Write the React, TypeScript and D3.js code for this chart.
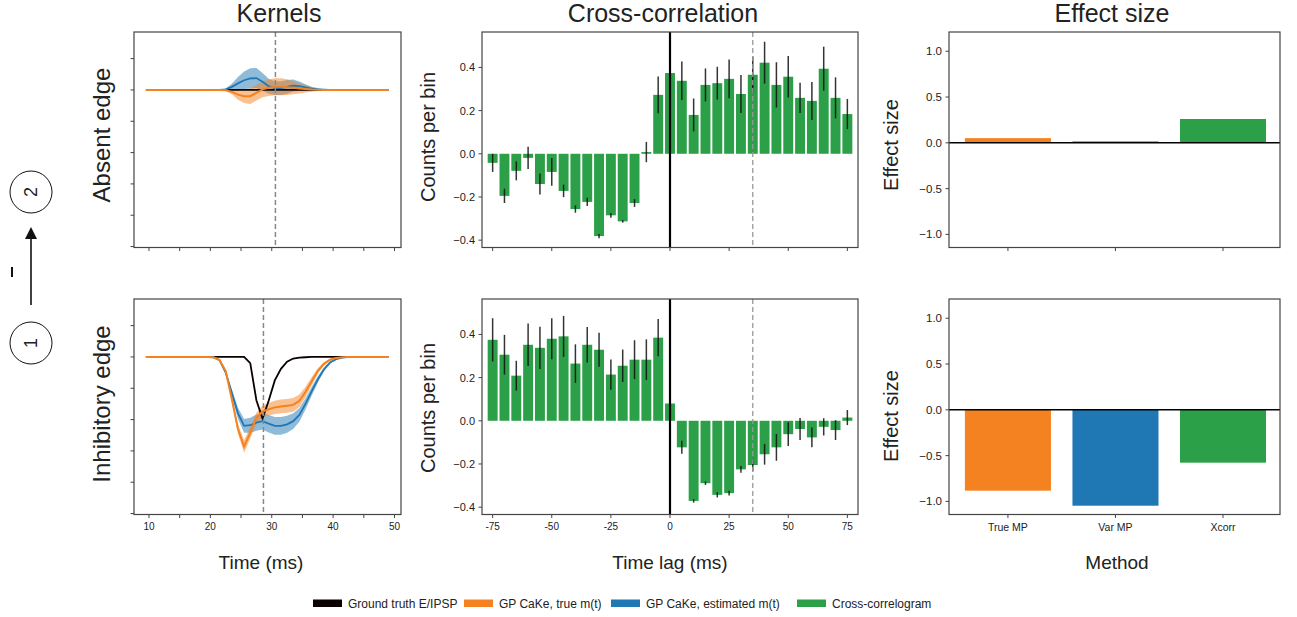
import React from 'react';
import * as d3 from 'd3';

// ---------------- DATA ----------------
const KERNEL_TIME = [9.5, 19.5, 20.5, 21.5, 22.5, 23.5, 24.5, 25.5, 26.5, 27.5, 28.5, 29.5, 30.5, 31.5, 32.5, 33.5, 34.5, 35.5, 36.5, 37.5, 38.5, 39.5, 40.5, 41.5, 42.5, 49.0];

// Absent edge kernels
const ABSENT_TRUTH = [0, 0, 0, 0, 0, 0, 0, 0, 0, 0, 0, 0, 0, 0, 0, 0, 0, 0, 0, 0, 0, 0, 0, 0, 0, 0];
const ABSENT_TRUE_M = [0, 0, 0, 0, -0.01, -0.06, -0.15, -0.2, -0.2, -0.09, 0.02, 0.07, 0.1, 0.1, 0.09, 0.07, 0.05, 0.03, 0.015, 0.005, 0, 0, 0, 0, 0, 0];
const ABSENT_TRUE_M_SD = [0, 0, 0, 0, 0.02, 0.08, 0.16, 0.22, 0.25, 0.25, 0.25, 0.26, 0.27, 0.27, 0.25, 0.21, 0.16, 0.11, 0.07, 0.04, 0.02, 0.01, 0, 0, 0, 0];
const ABSENT_EST_M = [0, 0, 0, 0, 0.02, 0.1, 0.21, 0.31, 0.37, 0.38, 0.26, 0.12, 0.06, 0.06, 0.1, 0.14, 0.12, 0.08, 0.04, 0.02, 0.01, 0, 0, 0, 0, 0];
const ABSENT_EST_M_SD = [0, 0, 0, 0, 0.03, 0.1, 0.2, 0.28, 0.32, 0.32, 0.28, 0.24, 0.22, 0.22, 0.22, 0.19, 0.15, 0.1, 0.06, 0.04, 0.02, 0.01, 0, 0, 0, 0];

// Inhibitory edge kernels
const INHIB_TRUTH = [0, 0, 0, 0, 0, 0, 0, 0, -0.2, -1.38, -1.97, -1.4, -0.75, -0.38, -0.15, -0.05, -0.02, -0.01, 0, 0, 0, 0, 0, 0, 0, 0];
const INHIB_TRUE_M = [0, 0, -0.01, -0.1, -0.45, -1.35, -2.3, -2.86, -2.42, -1.95, -1.74, -1.67, -1.61, -1.58, -1.56, -1.53, -1.4, -1.12, -0.78, -0.45, -0.22, -0.09, -0.03, -0.01, 0, 0];
const INHIB_TRUE_M_SD = [0, 0, 0, 0.01, 0.04, 0.1, 0.15, 0.2, 0.18, 0.17, 0.18, 0.2, 0.21, 0.22, 0.22, 0.22, 0.2, 0.17, 0.13, 0.09, 0.05, 0.03, 0.01, 0, 0, 0];
const INHIB_EST_M = [0, 0, -0.01, -0.1, -0.5, -1.15, -1.8, -2.2, -2.18, -2.1, -2.05, -2.13, -2.2, -2.2, -2.15, -2.05, -1.85, -1.5, -1.1, -0.72, -0.4, -0.18, -0.07, -0.02, 0, 0];
const INHIB_EST_M_SD = [0, 0, 0, 0.01, 0.05, 0.12, 0.18, 0.22, 0.24, 0.26, 0.27, 0.28, 0.28, 0.28, 0.27, 0.25, 0.22, 0.18, 0.14, 0.1, 0.06, 0.03, 0.01, 0, 0, 0];

const KERNEL_X_TICKS = [10, 15, 20, 25, 30, 35, 40, 45, 50];
const KERNEL_X_LABELS = [10, 20, 30, 40, 50];
const KERNEL_Y_TICKS = [1, 0, -1, -2, -3, -4, -5];
const ABSENT_DELAY = 30.6;
const INHIB_DELAY = 28.65;

// Cross-correlograms
const LAGS = [-75, -70, -65, -60, -55, -50, -45, -40, -35, -30, -25, -20, -15, -10, -5, 0, 5, 10, 15, 20, 25, 30, 35, 40, 45, 50, 55, 60, 65, 70, 75];
const XC_ABSENT = [-0.042, -0.195, -0.079, -0.019, -0.14, -0.084, -0.172, -0.256, -0.223, -0.381, -0.285, -0.313, -0.228, 0.008, 0.273, 0.374, 0.338, 0.18, 0.319, 0.327, 0.347, 0.277, 0.366, 0.422, 0.319, 0.357, 0.259, 0.245, 0.394, 0.259, 0.184];
const XC_ABSENT_ERR = [0.042, 0.033, 0.044, 0.052, 0.049, 0.064, 0.029, 0.017, 0.019, 0.01, 0.011, 0.006, 0.018, 0.047, 0.085, 0.07, 0.089, 0.076, 0.076, 0.076, 0.09, 0.088, 0.085, 0.097, 0.105, 0.096, 0.07, 0.088, 0.102, 0.095, 0.07];
const XC_INHIB = [0.375, 0.306, 0.209, 0.352, 0.338, 0.38, 0.391, 0.265, 0.352, 0.329, 0.214, 0.255, 0.283, 0.283, 0.385, 0.08, -0.123, -0.371, -0.289, -0.343, -0.335, -0.225, -0.205, -0.155, -0.123, -0.062, -0.038, -0.077, -0.028, -0.043, 0.015];
const XC_INHIB_ERR = [0.1, 0.092, 0.069, 0.098, 0.098, 0.095, 0.095, 0.089, 0.082, 0.079, 0.07, 0.075, 0.09, 0.094, 0.086, 0.08, 0.03, 0.008, 0.008, 0.012, 0.011, 0.016, 0.029, 0.048, 0.062, 0.055, 0.051, 0.046, 0.04, 0.046, 0.035];
const XC_X_TICKS = [-75, -50, -25, 0, 25, 50, 75];
const XC_Y_TICKS = [-0.4, -0.2, 0.0, 0.2, 0.4];
const XC_DELAY = 35;

// Effect sizes
const METHODS = ['True MP', 'Var MP', 'Xcorr'];
const EFFECT_ABSENT = [0.051, 0.015, 0.26];
const EFFECT_INHIB = [-0.883, -1.047, -0.577];
const EFFECT_Y_TICKS = [-1.0, -0.5, 0.0, 0.5, 1.0];

const LEGEND_LABELS = ['Ground truth E/IPSP', 'GP CaKe, true m(t)', 'GP CaKe, estimated m(t)', 'Cross-correlogram'];

// ---------------- STYLE ----------------
const C_BLACK = '#0a0000';
const C_ORANGE = '#f58220';
const C_BLUE = '#1f77b4';
const C_GREEN = '#2ca048';
const METHOD_COLORS = [C_ORANGE, C_BLUE, C_GREEN];
const LEGEND_COLORS = [C_BLACK, C_ORANGE, C_BLUE, C_GREEN];
const FONT = "'Liberation Sans', Arial, Helvetica, sans-serif";
const TXT = '#222';
const SPINE = '#444';

const ROWS = [
  { top: 32, bottom: 247.5 },
  { top: 299, bottom: 514.5 },
];

const fmt1 = (v: number) => (v < 0 ? '\u2212' : '') + Math.abs(v).toFixed(1);

function Frame({ x0, x1, y0, y1 }: { x0: number; x1: number; y0: number; y1: number }) {
  return <rect x={x0} y={y0} width={x1 - x0} height={y1 - y0} fill="none" stroke={SPINE} strokeWidth={1.2} />;
}

function KernelPanel({ row, truth, trueM, trueSd, estM, estSd, delay, labels }: any) {
  const { top, bottom } = ROWS[row];
  const x = d3.scaleLinear().domain([7.56, 51.06]).range([134, 401]);
  const y = d3.scaleLinear().domain([-5.03, 1.85]).range([bottom, top]);
  const idx = KERNEL_TIME.map((_, i) => i);
  const band = (m: number[], s: number[]) =>
    d3.area<number>().x(i => x(KERNEL_TIME[i])).y0(i => y(m[i] - s[i])).y1(i => y(m[i] + s[i]))(idx) || '';
  const line = (m: number[]) => d3.line<number>().x(i => x(KERNEL_TIME[i])).y(i => y(m[i]))(idx) || '';
  return (
    <g>
      <path d={band(estM, estSd)} fill={C_BLUE} fillOpacity={0.5} />
      <path d={band(trueM, trueSd)} fill={C_ORANGE} fillOpacity={0.5} />
      <path d={line(truth)} fill="none" stroke={C_BLACK} strokeWidth={1.8} />
      <path d={line(estM)} fill="none" stroke={C_BLUE} strokeWidth={1.8} />
      <path d={line(trueM)} fill="none" stroke={C_ORANGE} strokeWidth={2} />
      <line x1={x(delay)} x2={x(delay)} y1={top} y2={bottom} stroke="#888" strokeWidth={1.5} strokeDasharray="5,3" />
      <Frame x0={134} x1={401} y0={top} y1={bottom} />
      {KERNEL_Y_TICKS.map(t => (
        <line key={t} x1={130.5} x2={134} y1={y(t)} y2={y(t)} stroke={SPINE} />
      ))}
      {KERNEL_X_TICKS.map(t => (
        <line key={t} x1={x(t)} x2={x(t)} y1={bottom} y2={bottom + 3.5} stroke={SPINE} />
      ))}
      {labels &&
        KERNEL_X_LABELS.map(t => (
          <text key={t} x={x(t)} y={bottom + 15} fontSize={10} textAnchor="middle" fill={TXT} fontFamily={FONT}>
            {t}
          </text>
        ))}
    </g>
  );
}

function XcorrPanel({ row, values, errs, labels }: any) {
  const { top, bottom } = ROWS[row];
  const x = d3.scaleLinear().domain([-79.5, 79.5]).range([482, 858]);
  const y = d3.scaleLinear().domain([-0.434, 0.564]).range([bottom, top]);
  const bw = x(4.2) - x(0);
  return (
    <g>
      {LAGS.map((l, i) => {
        const v = values[i];
        return (
          <rect key={'b' + l} x={x(l) - bw / 2} width={bw} y={Math.min(y(v), y(0))} height={Math.abs(y(v) - y(0))} fill={C_GREEN} />
        );
      })}
      {LAGS.map((l, i) => (
        <line key={'e' + l} x1={x(l)} x2={x(l)} y1={y(values[i] - errs[i])} y2={y(values[i] + errs[i])} stroke="#111" strokeOpacity={0.85} strokeWidth={1.5} />
      ))}
      <line x1={x(0)} x2={x(0)} y1={top} y2={bottom} stroke="#000" strokeWidth={2.2} />
      <line x1={x(XC_DELAY)} x2={x(XC_DELAY)} y1={top} y2={bottom} stroke="#999" strokeWidth={1.3} strokeDasharray="5,3" />
      <Frame x0={482} x1={858} y0={top} y1={bottom} />
      {XC_Y_TICKS.map(t => (
        <g key={t}>
          <line x1={478.5} x2={482} y1={y(t)} y2={y(t)} stroke={SPINE} />
          <text x={475} y={y(t) + 4} fontSize={11} textAnchor="end" fill={TXT} fontFamily={FONT}>
            {fmt1(t)}
          </text>
        </g>
      ))}
      {XC_X_TICKS.map(t => (
        <g key={t}>
          <line x1={x(t)} x2={x(t)} y1={bottom} y2={bottom + 3.5} stroke={SPINE} />
          {labels && (
            <text x={x(t)} y={bottom + 15} fontSize={10} textAnchor="middle" fill={TXT} fontFamily={FONT}>
              {t}
            </text>
          )}
        </g>
      ))}
      <text transform={`translate(435,${row === 0 ? 137 : 408}) rotate(-90)`} fontSize={20} textAnchor="middle" fill={TXT} fontFamily={FONT}>
        Counts per bin
      </text>
    </g>
  );
}

function EffectPanel({ row, values, labels }: any) {
  const { top, bottom } = ROWS[row];
  const x = d3.scaleLinear().domain([-0.548, 2.53]).range([949, 1280]);
  const y = d3.scaleLinear().domain([-1.143, 1.21]).range([bottom, top]);
  const bw = x(0.8) - x(0);
  return (
    <g>
      {METHODS.map((m, i) => (
        <rect key={m} x={x(i) - bw / 2} width={bw} y={Math.min(y(values[i]), y(0))} height={Math.max(1, Math.abs(y(values[i]) - y(0)))} fill={METHOD_COLORS[i]} />
      ))}
      <line x1={949} x2={1280} y1={y(0)} y2={y(0)} stroke="#000" strokeWidth={1.5} />
      <Frame x0={949} x1={1280} y0={top} y1={bottom} />
      {EFFECT_Y_TICKS.map(t => (
        <g key={t}>
          <line x1={945.5} x2={949} y1={y(t)} y2={y(t)} stroke={SPINE} />
          <text x={942} y={y(t) + 4} fontSize={11.5} textAnchor="end" fill={TXT} fontFamily={FONT}>
            {fmt1(t)}
          </text>
        </g>
      ))}
      {METHODS.map((m, i) => (
        <g key={m}>
          <line x1={x(i)} x2={x(i)} y1={bottom} y2={bottom + 3.5} stroke={SPINE} />
          {labels && (
            <text x={x(i)} y={bottom + 16} fontSize={10.5} textAnchor="middle" fill={TXT} fontFamily={FONT}>
              {m}
            </text>
          )}
        </g>
      ))}
      <text transform={`translate(898,${row === 0 ? 145 : 416}) rotate(-90)`} fontSize={20} textAnchor="middle" fill={TXT} fontFamily={FONT}>
        Effect size
      </text>
    </g>
  );
}

function Diagram() {
  return (
    <g>
      <circle cx={31} cy={192} r={21} fill="none" stroke="#111" strokeWidth={1} />
      <circle cx={31} cy={343} r={21} fill="none" stroke="#111" strokeWidth={1} />
      <text transform="translate(37,192) rotate(-90)" fontSize={18} textAnchor="middle" fill={TXT} fontFamily={FONT}>2</text>
      <text transform="translate(37,343) rotate(-90)" fontSize={18} textAnchor="middle" fill={TXT} fontFamily={FONT}>1</text>
      <line x1={31} x2={31} y1={305} y2={236} stroke="#111" strokeWidth={1.6} />
      <path d="M31,227 L25,239 L37,239 Z" fill="#111" />
      <line x1={12} x2={12} y1={267} y2={277} stroke="#111" strokeWidth={2} />
    </g>
  );
}

export default function App() {
  const legendRectX = [313, 464, 611, 797];
  const legendTextX = [348, 499, 646, 832];
  return (
    <svg width={1297} height={617} style={{ position: 'absolute', left: 0, top: 0, background: '#fff' }} fontFamily={FONT}>
      <rect width={1297} height={617} fill="#fff" />
      <text x={279} y={22} fontSize={25} textAnchor="middle" fill={TXT}>Kernels</text>
      <text x={663} y={22} fontSize={25} textAnchor="middle" fill={TXT}>Cross-correlation</text>
      <text x={1112} y={22} fontSize={25} textAnchor="middle" fill={TXT}>Effect size</text>

      <text transform="translate(110,135) rotate(-90)" fontSize={24} textAnchor="middle" fill={TXT}>Absent edge</text>
      <text transform="translate(110,404) rotate(-90)" fontSize={24} textAnchor="middle" fill={TXT}>Inhibitory edge</text>

      <Diagram />

      <KernelPanel row={0} truth={ABSENT_TRUTH} trueM={ABSENT_TRUE_M} trueSd={ABSENT_TRUE_M_SD} estM={ABSENT_EST_M} estSd={ABSENT_EST_M_SD} delay={ABSENT_DELAY} labels={false} />
      <KernelPanel row={1} truth={INHIB_TRUTH} trueM={INHIB_TRUE_M} trueSd={INHIB_TRUE_M_SD} estM={INHIB_EST_M} estSd={INHIB_EST_M_SD} delay={INHIB_DELAY} labels={true} />

      <XcorrPanel row={0} values={XC_ABSENT} errs={XC_ABSENT_ERR} labels={false} />
      <XcorrPanel row={1} values={XC_INHIB} errs={XC_INHIB_ERR} labels={true} />

      <EffectPanel row={0} values={EFFECT_ABSENT} labels={false} />
      <EffectPanel row={1} values={EFFECT_INHIB} labels={true} />

      <text x={261} y={569} fontSize={19} textAnchor="middle" fill={TXT}>Time (ms)</text>
      <text x={670} y={569} fontSize={19} textAnchor="middle" fill={TXT}>Time lag (ms)</text>
      <text x={1117} y={569} fontSize={19} textAnchor="middle" fill={TXT}>Method</text>

      {LEGEND_LABELS.map((l, i) => (
        <g key={l}>
          <rect x={legendRectX[i]} y={599.5} width={29} height={7.5} fill={LEGEND_COLORS[i]} />
          <text x={legendTextX[i]} y={608} fontSize={12} fill={TXT}>{l}</text>
        </g>
      ))}
    </svg>
  );
}
